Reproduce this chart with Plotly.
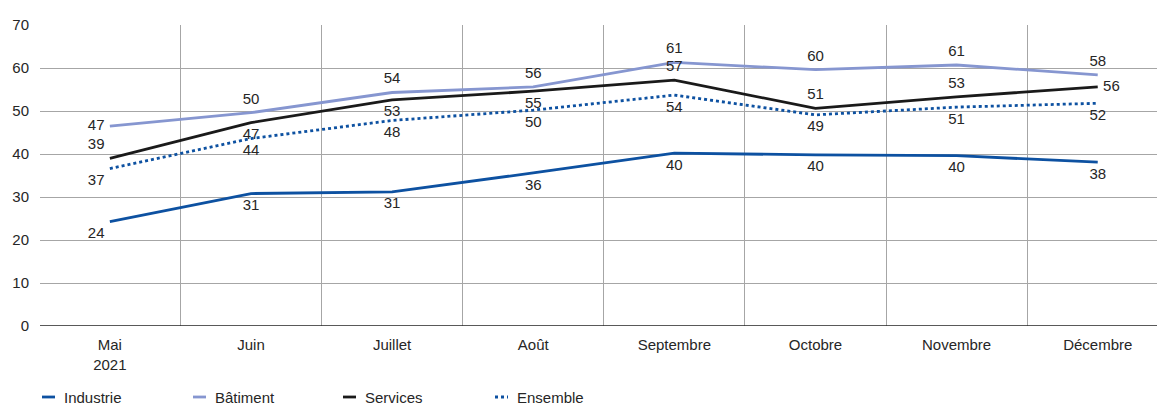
import plotly.graph_objects as go

months = ["Mai<br>2021", "Juin", "Juillet", "Août", "Septembre", "Octobre", "Novembre", "Décembre"]
industrie = [24.3, 30.8, 31.2, 35.6, 40.2, 39.8, 39.6, 38.1]
batiment = [46.5, 49.6, 54.3, 55.6, 61.3, 59.6, 60.7, 58.4]
services = [39.0, 47.3, 52.6, 54.6, 57.2, 50.6, 53.3, 55.6]
ensemble = [36.6, 43.6, 47.8, 50.2, 53.7, 49.1, 50.9, 51.8]
series_names = ["Industrie", "Bâtiment", "Services", "Ensemble"]

BLUE = "#0d51a1"
LAV = "#8696d0"
BLACK = "#1a1a1a"
TXT = "#262626"
FONT = "Liberation Sans, Arial, sans-serif"
FS = 15

W, H = 1157, 405
L, T, B = 40, 25, 79

pos_ind = ["bottom left"] + ["bottom center"] * 7
pos_bat = ["middle left"] + ["top center"] * 7
pos_ser = ["top left", "bottom center", "bottom center", "bottom center",
           "top center", "top center", "top center", "middle right"]
pos_ens = ["bottom left"] + ["bottom center"] * 7

fig = go.Figure()
specs = [
    (industrie, series_names[0], BLUE, "solid", pos_ind),
    (batiment, series_names[1], LAV, "solid", pos_bat),
    (services, series_names[2], BLACK, "solid", pos_ser),
    (ensemble, series_names[3], BLUE, "dot", pos_ens),
]
for vals, name, col, dash, pos in specs:
    fig.add_trace(go.Scatter(
        x=months, y=vals, name=name, mode="lines+markers+text",
        line=dict(color=col, width=2.8, dash=dash),
        marker=dict(size=7, color="rgba(0,0,0,0)"),
        texttemplate="%{y:.0f}", textposition=pos,
        textfont=dict(family=FONT, size=FS, color=TXT),
        showlegend=False, cliponaxis=False, hoverinfo="skip",
    ))

fig.update_layout(
    width=W, height=H,
    margin=dict(l=L, r=0, t=T, b=B),
    paper_bgcolor="white", plot_bgcolor="white",
    font=dict(family=FONT, size=FS, color=TXT),
    xaxis=dict(
        type="category", tickson="boundaries", range=[-0.495, 7.42],
        showgrid=True, gridcolor="#a6a6a6", gridwidth=1,
        ticks="", showline=False, zeroline=False,
        ticklabelstandoff=8,
        tickfont=dict(family=FONT, size=FS, color=TXT),
    ),
    yaxis=dict(
        range=[0, 70], dtick=10, showgrid=True, gridcolor="#a6a6a6", gridwidth=1,
        zeroline=False, showline=False, ticks="",
        ticklabelstandoff=10,
        tickfont=dict(family=FONT, size=FS, color=TXT),
    ),
)
# baseline at 0
fig.add_shape(type="line", xref="paper", yref="y", x0=0, x1=1, y0=0, y1=0,
              line=dict(color="#222222", width=1.5))

# manual legend
pw = W - L
ph = H - T - B
def px2x(px):
    return (px - L) / pw
def py2y(py):
    return (H - B - py) / ph

leg_y = 397
leg = [(42, series_names[0], BLUE, "solid"), (193, series_names[1], LAV, "solid"),
       (343, series_names[2], BLACK, "solid"), (495, series_names[3], BLUE, "dot")]
for x0, name, col, dash in leg:
    fig.add_shape(type="line", xref="paper", yref="paper",
                  x0=px2x(x0), x1=px2x(x0 + 13), y0=py2y(leg_y), y1=py2y(leg_y),
                  line=dict(color=col, width=2.8, dash=dash))
    fig.add_annotation(xref="paper", yref="paper", x=px2x(x0 + 20), y=py2y(leg_y),
                       text=name, showarrow=False, xanchor="left", yanchor="middle",
                       font=dict(family=FONT, size=FS, color=TXT))

fig.write_html("out.html")
